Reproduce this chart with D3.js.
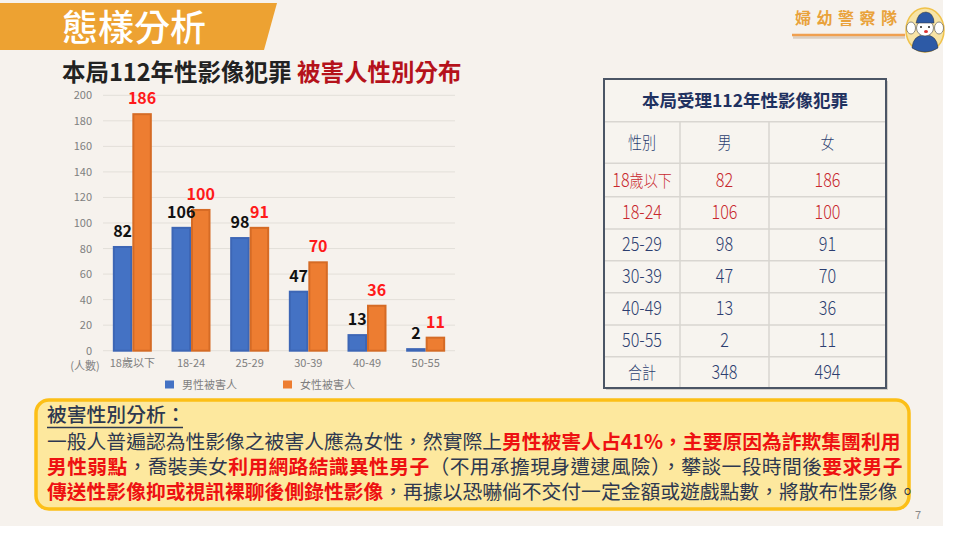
<!DOCTYPE html>
<html><head><meta charset="utf-8">
<script src="https://cdn.jsdelivr.net/npm/d3@7"></script>
<style>
html,body{margin:0;padding:0;background:#ffffff;}
svg{display:block;}
text{font-family:"Noto Sans CJK TC","Noto Sans",sans-serif;}
</style></head>
<body>
<svg id="c" width="960" height="540"></svg>
<script>
// ---------- data ----------
const categories = ["18歲以下","18-24","25-29","30-39","40-49","50-55"];
const seriesNames = ["男性被害人","女性被害人"];
// bar heights as drawn in the reference
const maleBars   = [82, 97, 89, 47, 13, 2];
const femaleBars = [186, 111, 97, 70, 36, 11];
// data labels as printed in the reference
const maleLabels   = [82, 106, 98, 47, 13, 2];
const femaleLabels = [186, 100, 91, 70, 36, 11];
const yTicks = [0,20,40,60,80,100,120,140,160,180,200];
// table
const tableTitle = "本局受理112年性影像犯罪";
const tableHeader = ["性別","男","女"];
const tableRows = ["18歲以下","18-24","25-29","30-39","40-49","50-55","合計"];
const tableMale = [82,106,98,47,13,2,348];
const tableFemale = [186,100,91,70,36,11,494];
const tableRedRows = [0,1];

const svg = d3.select("#c");
const BG = "#f6f2ed";
svg.append("rect").attr("x",0).attr("y",0).attr("width",943).attr("height",526).attr("fill",BG);

// ---------- header banner ----------
svg.append("polygon").attr("points","0,3 277,3 264,50 0,50").attr("fill","#eda232");
svg.append("text").attr("x",62).attr("y",41).attr("fill","#fff")
  .attr("font-size",36).attr("font-weight",500).text("態樣分析");

// logo
const logo = svg.append("g");
logo.append("text").attr("x",795).attr("y",24).attr("fill","#e9a23b").attr("font-size",16)
  .attr("font-weight",700).attr("letter-spacing",5.5).text("婦幼警察隊");
logo.append("line").attr("x1",793).attr("x2",905).attr("y1",37.5).attr("y2",37.5)
  .attr("stroke","#b9a58f").attr("stroke-width",2.5).attr("opacity",0.45);
logo.append("line").attr("x1",792).attr("x2",905).attr("y1",35).attr("y2",35)
  .attr("stroke","#f0a050").attr("stroke-width",2.5);
logo.append("ellipse").attr("cx",925).attr("cy",30).attr("rx",19).attr("ry",22)
  .attr("fill","#f7e4a6").attr("stroke","#f0c24a").attr("stroke-width",1.5);
logo.append("path").attr("d","M912,48 Q913,35 925,35 Q937,35 938,48 Q932,52 925,52 Q918,52 912,48Z")
  .attr("fill","#2d5aa6").attr("stroke","#333").attr("stroke-width",0.5);
logo.append("ellipse").attr("cx",925).attr("cy",28).attr("rx",8.5).attr("ry",8).attr("fill","#fff")
  .attr("stroke","#444").attr("stroke-width",0.6);
logo.append("path").attr("d","M916,23 Q918,12 926,12 Q934,13 934,23 Z").attr("fill","#2d5aa6")
  .attr("stroke","#333").attr("stroke-width",0.5);
logo.append("ellipse").attr("cx",911).attr("cy",28).attr("rx",4.5).attr("ry",6).attr("fill","#fff")
  .attr("stroke","#444").attr("stroke-width",0.6);
logo.append("ellipse").attr("cx",939).attr("cy",28).attr("rx",4.5).attr("ry",6).attr("fill","#fff")
  .attr("stroke","#444").attr("stroke-width",0.6);
logo.append("circle").attr("cx",921).attr("cy",27).attr("r",1).attr("fill","#222");
logo.append("circle").attr("cx",929).attr("cy",27).attr("r",1).attr("fill","#222");
logo.append("ellipse").attr("cx",926).attr("cy",31.5).attr("rx",2).attr("ry",1.6).attr("fill","#d33");

// ---------- chart title ----------
const title = svg.append("text").attr("x",62).attr("y",81).attr("font-size",23.5).attr("font-weight",700);
title.append("tspan").attr("fill","#222").text("本局112年性影像犯罪 ");
title.append("tspan").attr("fill","#b5121b").text("被害人性別分布");

// ---------- bar chart ----------
const x0 = d3.scaleBand().domain(categories).range([103,455]).paddingInner(0).paddingOuter(0);
const y = d3.scaleLinear().domain([0,200]).range([350.7,95.3]);
const barW = 19.5;

const grid = svg.append("g");
grid.selectAll("line").data(yTicks).join("line")
  .attr("x1",103).attr("x2",455).attr("y1",d=>y(d)).attr("y2",d=>y(d))
  .attr("stroke","#e3dfd9").attr("stroke-width",1);

const yAxis = d3.axisLeft(y).tickValues(yTicks).tickSize(0).tickPadding(0);
const ya = svg.append("g").attr("transform","translate(92,0)").call(yAxis);
ya.select(".domain").remove();
ya.selectAll("text").attr("font-size",11).attr("fill","#7f7f7f").attr("font-family","'Noto Sans',sans-serif");

const xAxis = d3.axisBottom(x0).tickSize(0).tickPadding(0);
const xa = svg.append("g").attr("transform","translate(0,359)").call(xAxis);
xa.select(".domain").remove();
xa.selectAll("text").attr("font-size",11).attr("fill","#7f7f7f").attr("dy","0.71em");
svg.append("text").attr("x",85).attr("y",370).attr("text-anchor","middle").attr("font-size",11)
  .attr("fill","#7f7f7f").text("(人數)");

const colors = {male:{fill:"#4472c4",stroke:"#3d66b5"}, female:{fill:"#ed7d31",stroke:"#d56b25"}};
const bars = svg.append("g");
categories.forEach((c,i)=>{
  const cx = x0(c)+x0.bandwidth()/2;
  const mx = cx - barW, fx = cx;
  bars.append("rect").attr("x",mx+1).attr("y",y(maleBars[i])+1).attr("width",barW-2)
    .attr("height",Math.max(0,y(0)-y(maleBars[i])-1)).attr("fill",colors.male.fill)
    .attr("stroke",colors.male.stroke).attr("stroke-width",2);
  bars.append("rect").attr("x",fx+1).attr("y",y(femaleBars[i])+1).attr("width",barW-2)
    .attr("height",Math.max(0,y(0)-y(femaleBars[i])-1)).attr("fill",colors.female.fill)
    .attr("stroke",colors.female.stroke).attr("stroke-width",2);
  svg.append("text").attr("x",mx+barW/2).attr("y",y(maleBars[i])-9).attr("text-anchor","middle")
    .attr("font-size",16).attr("font-weight",700).attr("fill","#111")
    .attr("font-family","'Noto Sans',sans-serif").text(maleLabels[i]);
  svg.append("text").attr("x",fx+barW/2).attr("y",y(femaleBars[i])-9).attr("text-anchor","middle")
    .attr("font-size",16).attr("font-weight",700).attr("fill","#ff1a1a")
    .attr("font-family","'Noto Sans',sans-serif").text(femaleLabels[i]);
});

// legend
const legend = svg.append("g");
const legX = [165, 283];
seriesNames.forEach((n,i)=>{
  legend.append("rect").attr("x",legX[i]).attr("y",380.5).attr("width",9).attr("height",8)
    .attr("fill",i===0?colors.male.fill:colors.female.fill);
  legend.append("text").attr("x",legX[i]+17).attr("y",388.5).attr("font-size",11)
    .attr("fill","#7f7f7f").text(n);
});

// ---------- table ----------
const tb = svg.append("g");
const tL=604, tR=886, tT=79, tB=388;
const colX = [604,680,769,886];
const rowY = [121.7,163.3,196.7,229,260.7,292.7,325,356.7,388];
tb.append("rect").attr("x",tL+2).attr("y",tT+2).attr("width",tR-tL).attr("height",tB-tT)
  .attr("fill","#b9b4ad").attr("opacity",0.6);
tb.append("rect").attr("x",tL).attr("y",tT).attr("width",tR-tL).attr("height",tB-tT)
  .attr("fill","#f7f4ef");
for(let r=0;r<rowY.length-1;r++){
  tb.append("line").attr("x1",tL).attr("x2",tR).attr("y1",rowY[r]).attr("y2",rowY[r])
    .attr("stroke","#d9d6d1").attr("stroke-width",1.5);
}
[1,2].forEach(k=>{
  tb.append("line").attr("x1",colX[k]).attr("x2",colX[k]).attr("y1",rowY[0]).attr("y2",tB)
    .attr("stroke","#d9d6d1").attr("stroke-width",1.5);
});
tb.append("rect").attr("x",tL).attr("y",tT).attr("width",tR-tL).attr("height",tB-tT)
  .attr("fill","none").attr("stroke","#4b5565").attr("stroke-width",2);
tb.append("text").attr("x",(tL+tR)/2).attr("y",(tT+rowY[0])/2+6.5).attr("text-anchor","middle")
  .attr("font-size",17.5).attr("font-weight",700).attr("fill","#1f3160").text(tableTitle);
const colC = [642,724.5,827.5];
const navy = "#2c3e70", red = "#c8282e";
// cell text: digits/latin larger, CJK smaller, horizontally condensed
function cell(x, yb, val, col){
  const t = tb.append("text").attr("transform",`translate(${x},${yb}) scale(0.85,1)`)
    .attr("text-anchor","middle").attr("font-weight",300).attr("fill",col);
  const parts = String(val).match(/[0-9\-]+|[^0-9\-]+/g);
  parts.forEach(p=>{
    t.append("tspan").attr("font-size",/[0-9\-]/.test(p[0])?19:16.5).text(p);
  });
}
tableHeader.forEach((h,k)=>cell(colC[k],(rowY[0]+rowY[1])/2+6.5,h,navy));
tableRows.forEach((r,i)=>{
  const cy = (rowY[i+1]+rowY[i+2])/2 + 6.5;
  const col = tableRedRows.includes(i)?red:navy;
  [r, tableMale[i], tableFemale[i]].forEach((v,k)=>cell(colC[k],cy,v,col));
});

// ---------- text box ----------
svg.append("rect").attr("x",36).attr("y",400).attr("width",873).attr("height",109).attr("rx",13)
  .attr("fill","#fde89e").attr("stroke","#fcbf17").attr("stroke-width",3.5);
const dark = "#2e3850", red2 = "#ee1111";
const fs = 19.8;
svg.append("text").attr("x",47).attr("y",422).attr("font-size",fs).attr("fill",dark).attr("font-weight",500)
  .text("被害性別分析：");
svg.append("line").attr("x1",47).attr("x2",183).attr("y1",427.5).attr("y2",427.5).attr("stroke",dark).attr("stroke-width",1.5);

const lines = [
  [["一般人普遍認為性影像之被害人應為女性，然實際上",0],["男性被害人占41%，主要原因為詐欺集團利用",1]],
  [["男性弱點",1],["，喬裝美女",0],["利用網路結識異性男子",1],["（不用承擔現身遭逮風險），攀談一段時間後",0],["要求男子",1]],
  [["傳送性影像抑或視訊裸聊後側錄性影像",1],["，再據以恐嚇倘不交付一定金額或遊戲點數，將散布性影像。",0]]
];
const lineY = [449, 474, 499];
const lineSpacing = [0, 0.35, 0];
lines.forEach((segs,li)=>{
  const t = svg.append("text").attr("x",47).attr("y",lineY[li]).attr("font-size",fs)
    .attr("letter-spacing",lineSpacing[li]);
  segs.forEach(([s,isRed])=>{
    t.append("tspan").attr("fill",isRed?red2:dark).attr("font-weight",isRed?700:400).text(s);
  });
});

// page number
svg.append("text").attr("x",918).attr("y",519).attr("text-anchor","middle").attr("font-size",11)
  .attr("fill","#8a8a8a").attr("font-family","'Noto Sans',sans-serif").text("7");
</script>
</body></html>
